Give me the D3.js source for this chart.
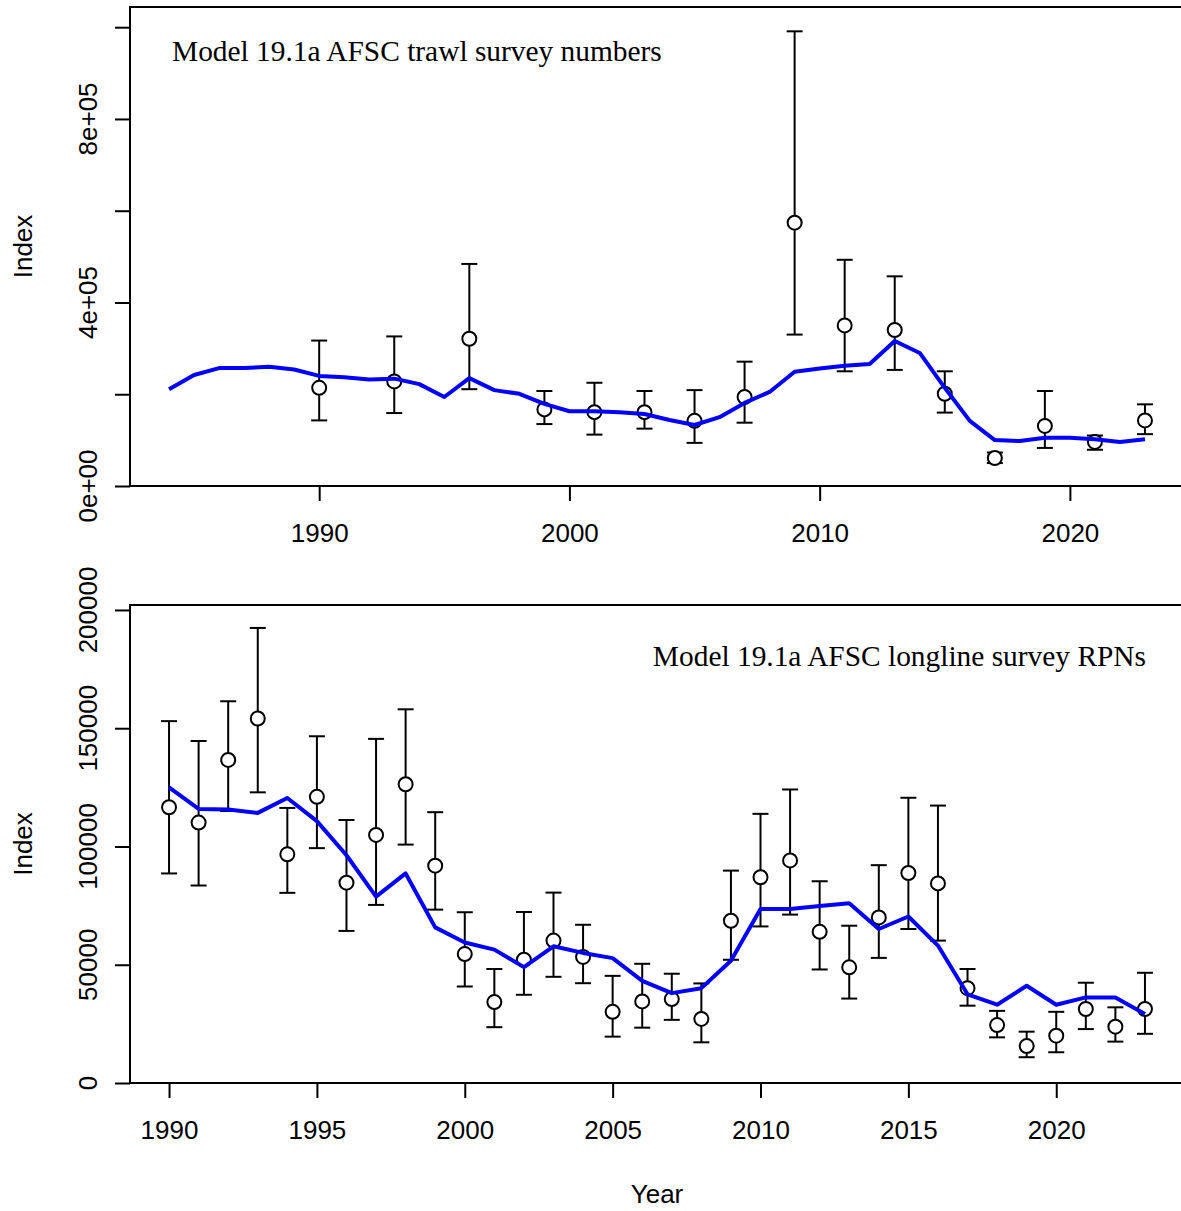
<!DOCTYPE html>
<meta charset="utf-8">
<script src="https://d3js.org/d3.v7.js"></script>
<style>
  body { margin: 0; background: #fff; }
  text { font-family: "Liberation Sans", Arial, sans-serif; }
  .title { font-family: "Liberation Serif", "Times New Roman", serif; }
</style>
<svg id="chart" width="1181" height="1211"></svg>
<script>

// Trawl survey: model fit
const trawlFitYears = [1984, 1985, 1986, 1987, 1988, 1989, 1990, 1991, 1992, 1993, 1994, 1995, 1996, 1997, 1998, 1999,
  2000, 2001, 2002, 2003, 2004, 2005, 2006, 2007, 2008, 2009, 2010, 2011, 2012, 2013, 2014, 2015, 2016, 2017, 2018,
  2019, 2020, 2021, 2022, 2023];
const trawlFit = [211000, 242000, 257000, 257000, 260000, 254000, 240000, 237000, 232000, 234000, 222000, 194000,
  235000, 209000, 201000, 179000, 163000, 163000, 161000, 157000, 144000, 133000, 150000, 181000, 205000, 249000,
  256000, 262000, 266000, 316000, 290000, 214000, 142000, 100000, 98000, 105000, 105000, 102000, 96000, 102000];

// Trawl survey: observations with intervals
const trawlObsYears = [1990, 1993, 1996, 1999, 2001, 2003, 2005, 2007, 2009, 2011, 2013, 2015, 2017, 2019, 2021, 2023];
const trawlObs   = [214000, 228000, 321000, 167000, 161000, 161000, 142000, 194000, 574000, 350000, 340000, 201000, 61000, 131000, 96000, 143000];
const trawlLower = [143000, 159000, 211000, 135000, 112000, 125000, 94000, 138000, 330000, 250000, 253000, 160000, 50000, 83000, 79000, 113000];
const trawlUpper = [317000, 326000, 484000, 207000, 225000, 207000, 209000, 271000, 991000, 493000, 457000, 250000, 73000, 207000, 110000, 178000];

// Longline survey
const llYears = [1990, 1991, 1992, 1993, 1994, 1995, 1996, 1997, 1998, 1999, 2000, 2001, 2002, 2003, 2004, 2005,
  2006, 2007, 2008, 2009, 2010, 2011, 2012, 2013, 2014, 2015, 2016, 2017, 2018, 2019, 2020, 2021, 2022, 2023];
const llFit = [125000, 115900, 115600, 114200, 120500, 110700, 96300, 78800, 88600, 65800, 59400, 56400, 49000,
  57800, 55000, 52800, 43200, 38000, 40100, 51700, 73600, 73600, 74800, 76000, 65100, 70400, 58100, 37500, 33100,
  41100, 33100, 36200, 36200, 29200];
const llObs = [116600, 110100, 136600, 154100, 96700, 121000, 84700, 104900, 126300, 91900, 54500, 34200, 52100,
  60200, 53300, 30100, 34500, 35500, 27100, 68600, 87000, 94100, 63900, 48900, 70000, 88800, 84400, 40100, 24500,
  15600, 20000, 31300, 23800, 31300];
const llLower = [88600, 83500, 115000, 122900, 80400, 99300, 64300, 75300, 100800, 73300, 40800, 23600, 37300,
  44900, 42200, 19600, 23400, 26700, 17200, 52100, 66200, 71200, 48000, 35700, 52900, 65100, 60200, 32700, 19300,
  10900, 13000, 22800, 17500, 20800];
const llUpper = [153000, 144600, 161400, 192400, 116300, 146600, 111200, 145500, 158000, 114500, 72200, 48200,
  72300, 80500, 66900, 45300, 50400, 46200, 42100, 89800, 113800, 124100, 85300, 66500, 92100, 120600, 117300,
  48200, 30500, 21700, 30100, 42400, 32000, 46600];

// Axis ticks
const trawlXTicks = [1990, 2000, 2010, 2020];
const trawlYTicks = [0, 200000, 400000, 600000, 800000, 1000000];
const trawlYLabels = ["0e+00", "", "4e+05", "", "8e+05", ""];
const llXTicks = [1990, 1995, 2000, 2005, 2010, 2015, 2020];
const llYTicks = [0, 50000, 100000, 150000, 200000];
const llYLabels = ["0", "50000", "100000", "150000", "200000"];

const svg = d3.select("#chart");
const left = 130, right = 1184;

function panel(opt) {
  const g = svg.append("g");
  const x = d3.scaleLinear().domain(opt.xdom).range([left, right]);
  const y = d3.scaleLinear().domain(opt.ydom).range([opt.bottom, opt.top]);

  // box
  g.append("rect")
    .attr("x", left).attr("y", opt.top)
    .attr("width", right - left).attr("height", opt.bottom - opt.top)
    .attr("fill", "none").attr("stroke", "#000").attr("stroke-width", 2);

  // x axis
  const xa = g.append("g").attr("transform", `translate(0,${opt.bottom})`)
    .call(d3.axisBottom(x).tickValues(opt.xticks).tickFormat(d3.format("d")).tickSize(15).tickPadding(23));
  xa.select(".domain").remove();
  xa.append("line")
    .attr("x1", x(opt.xticks[0])).attr("x2", x(opt.xticks[opt.xticks.length - 1]))
    .attr("stroke", "#000").attr("stroke-width", 2);
  xa.selectAll(".tick line").attr("stroke-width", 2);
  xa.selectAll(".tick text").attr("font-size", 26).attr("fill", "#000")
    .style("font-family", "'Liberation Sans', Arial, sans-serif");

  // y axis
  const ya = g.append("g").attr("transform", `translate(${left},0)`)
    .call(d3.axisLeft(y).tickValues(opt.yticks).tickFormat("").tickSize(15));
  ya.select(".domain").remove();
  ya.append("line")
    .attr("y1", y(opt.yticks[0])).attr("y2", y(opt.yticks[opt.yticks.length - 1]))
    .attr("stroke", "#000").attr("stroke-width", 2);
  ya.selectAll(".tick line").attr("stroke-width", 2);
  g.selectAll(".ylab").data(opt.yticks).join("text")
    .attr("transform", d => `translate(97,${y(d)}) rotate(-90)`)
    .attr("text-anchor", "middle").attr("font-size", 26)
    .text((d, i) => opt.ylabels[i]);

  // Index label
  g.append("text")
    .attr("transform", `translate(32,${(opt.top + opt.bottom) / 2}) rotate(-90)`)
    .attr("text-anchor", "middle").attr("font-size", 26).text("Index");

  // error bars
  const eb = g.append("g").attr("stroke", "#000").attr("stroke-width", 2);
  opt.obsYears.forEach((yr, i) => {
    const cx = x(yr);
    eb.append("line").attr("x1", cx).attr("x2", cx).attr("y1", y(opt.lower[i])).attr("y2", y(opt.upper[i]));
    eb.append("line").attr("x1", cx - 8).attr("x2", cx + 8).attr("y1", y(opt.lower[i])).attr("y2", y(opt.lower[i]));
    eb.append("line").attr("x1", cx - 8).attr("x2", cx + 8).attr("y1", y(opt.upper[i])).attr("y2", y(opt.upper[i]));
  });

  // points
  g.selectAll(".pt").data(opt.obs).join("circle")
    .attr("cx", (d, i) => x(opt.obsYears[i]))
    .attr("cy", d => y(d))
    .attr("r", 7)
    .attr("fill", "#fff").attr("stroke", "#000").attr("stroke-width", 2);

  // fitted line
  const line = d3.line().x((d, i) => x(opt.fitYears[i])).y(d => y(d));
  g.append("path").datum(opt.fit)
    .attr("d", line)
    .attr("fill", "none").attr("stroke", "#0000ff").attr("stroke-width", 4)
    .attr("stroke-linejoin", "round");

  // title
  g.append("text").attr("class", "title")
    .attr("x", opt.titleX).attr("y", opt.titleY)
    .attr("text-anchor", opt.titleAnchor)
    .attr("font-size", 29.4).text(opt.title);
}

panel({
  xdom: [1982.44, 2024.56], ydom: [0, 1044000], top: 7, bottom: 486,
  xticks: trawlXTicks, yticks: trawlYTicks, ylabels: trawlYLabels,
  fitYears: trawlFitYears, fit: trawlFit,
  obsYears: trawlObsYears, obs: trawlObs, lower: trawlLower, upper: trawlUpper,
  title: "Model 19.1a AFSC trawl survey numbers", titleX: 172, titleY: 61, titleAnchor: "start"
});

panel({
  xdom: [1988.68, 2024.32], ydom: [0, 202100], top: 605, bottom: 1083,
  xticks: llXTicks, yticks: llYTicks, ylabels: llYLabels,
  fitYears: llYears, fit: llFit,
  obsYears: llYears, obs: llObs, lower: llLower, upper: llUpper,
  title: "Model 19.1a AFSC longline survey RPNs", titleX: 1146, titleY: 666, titleAnchor: "end"
});

// x axis title
svg.append("text")
  .attr("x", (left + right) / 2).attr("y", 1203)
  .attr("text-anchor", "middle").attr("font-size", 26).text("Year");

</script>
